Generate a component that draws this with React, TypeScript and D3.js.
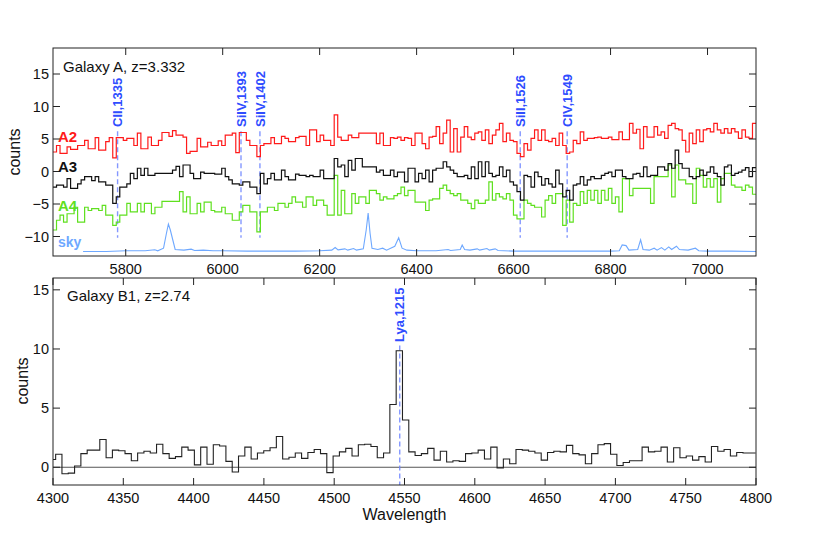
import React from 'react';
import * as d3 from 'd3';

// ---------- data ----------
const TOP_START = 5650;
const TOP_BIN = 7.25;
const A2 = [
  3.0, 4.0, 2.8, 2.8, 3.8, 3.4, 3.4, 4.0, 4.0, 4.8,
  3.5, 3.5, 5.2, 3.3, 3.3, 4.6, 5.2, 2.1, 5.2, 5.2,
  4.8, 5.1, 5.1, 4.0, 5.9, 3.5, 3.5, 5.3, 4.0, 4.0,
  4.8, 6.0, 6.0, 5.4, 6.3, 5.6, 5.6, 5.3, 2.8, 3.1,
  3.1, 5.1, 3.8, 3.8, 4.5, 4.0, 4.0, 4.7, 4.0, 5.6,
  5.6, 5.9, 2.9, 6.0, 6.0, 4.8, 4.0, 4.0, 2.3, 4.0,
  4.3, 4.3, 5.2, 4.3, 4.3, 5.4, 5.1, 4.6, 4.6, 5.2,
  5.4, 5.4, 4.0, 6.4, 6.4, 4.6, 5.6, 4.8, 4.8, 4.0,
  8.7, 5.3, 4.8, 4.8, 5.6, 5.2, 5.2, 5.9, 5.9, 5.9,
  5.9, 5.9, 4.3, 5.9, 4.0, 4.0, 5.2, 5.1, 5.3, 4.8,
  5.2,
  5.1, 4.0, 5.9, 5.9, 4.3, 3.5, 5.3, 5.4, 6.9, 4.3,
  5.9, 7.9, 3.0, 6.6, 3.0, 5.3, 6.9, 5.3, 4.9, 5.9,
  6.1, 4.8, 6.4, 4.3, 5.6, 6.4, 7.4, 4.6, 5.9, 4.8,
  4.6, 2.8, 2.3, 4.3, 3.3, 5.1, 6.4, 4.8, 6.4, 4.8,
  4.6, 5.1, 4.0, 5.9, 4.0, 2.8, 3.0, 4.8, 4.3, 6.1,
  4.8, 5.1, 5.1, 5.2, 5.3, 5.1, 5.1, 5.3, 4.9, 4.9,
  6.1, 4.9, 4.9, 7.4, 5.9, 6.5, 3.5, 6.9, 5.3, 5.3,
  6.9, 5.6, 6.1, 5.1, 7.1, 7.4, 6.6, 6.4, 4.8, 3.0,
  5.9, 4.3, 6.4, 4.6, 6.4, 6.6, 6.1, 7.4, 6.4, 5.9,
  6.6, 5.9, 6.6, 6.1, 5.1, 6.4, 5.3, 5.1, 7.4,
];
const A3 = [
  -2.4, -2.1, -2.1, -2.4, -1.1, -2.6, -2.6, -1.9, -1.3, -0.8,
  -0.8, -1.4, -0.8, -1.6, -1.6, -2.1, -2.1, -4.9, -3.9, -2.4,
  -2.4, -1.9, -0.3, -1.1, 0.5, -0.6, 0.5, -0.6, -0.6, -0.3,
  -0.3, -0.3, -0.3, -0.3, 0.2, 0.8, -0.8, 1.0, 1.0, -0.3,
  -1.1, -1.1, -0.1, -0.3, -0.3, -0.3, -0.4, -0.4, 0.5, -0.8,
  -1.3, -1.9, -1.9, -2.1, -1.6, -1.6, -2.4, -2.4, -3.4, -0.3,
  -1.9, -1.1, -0.3, -1.3, -1.3, 0.2, -0.8, -1.3, -1.3, -0.4,
  -0.6, -0.6, -0.8, -0.6, -0.8, -0.8, 0.2, -1.1, -1.1, -1.1,
  2.0, 0.7, 1.0, -0.8, 1.7, 0.2, 2.0, 2.0, 0.7, 0.7,
  0.7, 0.7, -0.1, 0.2, -0.6, -0.6, 0.2, -0.8, -0.1, -0.1,
  -1.6,
  0.5, 0.5, -1.6, -0.3, -1.1, 0.2, -1.6, 0.2, 0.5, 0.5,
  1.5, 0.7, 0.2, -0.3, -0.8, -0.8, -0.6, -1.1, 0.7, -1.1,
  1.5, -0.8, 1.5, -0.3, -0.8, -0.6, 0.7, -0.8, 0.2, -1.6,
  -2.1, -3.1, -4.4, -0.6, -0.8, -2.4, -0.1, -0.8, -2.1, -1.1,
  -1.9, -2.4, 0.2, -1.9, -3.9, -2.9, -4.4, -2.1, -1.9, -0.8,
  -2.1, -1.3, -0.8, -1.1, -1.1, -0.6, -0.3, -0.1, -0.8, 0.2,
  0.2, -0.8, -1.1, -1.1, -0.4, -0.3, -0.8, 0.7, -0.8, -0.6,
  -0.6, 0.7, 0.7, 0.2, 1.2, 0.5, 3.3, 1.2, 0.5, 0.5,
  -0.8, -1.1, -0.8, 0.2, -0.6, -0.1, 0.7, -0.3, -0.8, -2.1,
  0.7, 1.0, -0.6, -0.3, -0.1, 0.2, 0.6, -0.8, 0.6,
];
const A4 = [
  -9.0, -7.5, -6.7, -7.8, -6.5, -6.5, -5.5, -7.8, -7.8, -5.5,
  -6.0, -5.7, -5.7, -6.0, -5.2, -6.7, -6.7, -8.3, -7.8, -6.7,
  -6.7, -4.9, -6.2, -6.2, -4.9, -6.2, -4.9, -4.9, -6.5, -5.5,
  -5.5, -4.6, -4.6, -4.6, -4.6, -4.6, -3.1, -6.2, -3.9, -6.5,
  -6.5, -4.9, -6.2, -4.7, -4.7, -6.0, -6.2, -6.2, -5.5, -6.5,
  -6.5, -7.5, -7.5, -6.2, -5.2, -5.2, -6.2, -6.2, -9.3, -6.2,
  -6.2, -5.5, -5.5, -6.0, -4.9, -4.9, -5.5, -4.9, -3.9, -4.7,
  -4.7, -5.5, -3.9, -3.9, -5.2, -4.4, -4.4, -5.2, -6.7, -6.7,
  -0.6, -6.7, -2.9, -6.5, -6.5, -3.4, -4.9, -3.9, -3.9, -4.9,
  -2.9, -2.9, -3.4, -4.4, -3.9, -4.2, -4.2, -3.7, -3.4, -2.4,
  -3.7,
  -2.9, -2.9, -4.7, -4.7, -4.7, -6.0, -4.4, -4.2, -4.2, -2.6,
  -2.1, -2.9, -3.4, -3.7, -3.4, -4.4, -4.4, -4.9, -5.7, -4.4,
  -4.9, -4.9, -4.4, -1.6, -4.4, -3.4, -3.9, -4.2, -3.4, -4.4,
  -6.7, -7.3, -7.3, -4.4, -4.9, -5.2, -5.5, -5.5, -7.0, -4.4,
  -3.7, -4.9, -3.4, -3.4, -8.3, -4.4, -7.8, -4.9, -5.2, -3.1,
  -4.9, -2.9, -4.4, -2.9, -4.9, -2.9, -4.4, -2.6, -4.9, -3.9,
  -6.2, -1.1, -1.1, -3.7, -2.6, -2.6, -2.6, -2.6, -2.6, -4.9,
  -0.8, -0.8, -0.8, -0.8, 1.0, -3.9, 1.0, -1.3, -1.3, -1.9,
  -1.9, -4.9, 0.5, -0.6, -2.4, -1.1, -2.4, -1.1, -4.7, -1.1,
  -0.3, -0.3, -2.1, -2.4, -2.4, -2.9, -2.1, -2.4, -3.5,
];
// sky: [wavelength, counts] vertices of the polyline
const SKY: [number, number][] = [
  [5712, -12.3], [5760, -12.3], [5800, -12.2], [5840, -12.2], [5860, -12.05], [5866, -12.2],
  [5878, -11.8], [5884, -9.5], [5888, -8.1], [5892, -9.0], [5897, -10.5], [5902, -12.0],
  [5920, -12.1], [5935, -11.95], [5942, -12.15], [5960, -12.1], [5980, -12.2], [6000, -12.2],
  [6050, -12.25], [6100, -12.25], [6150, -12.25], [6200, -12.2], [6225, -12.1], [6232, -11.7],
  [6238, -12.05], [6252, -11.9], [6258, -12.1], [6270, -11.85], [6276, -12.1], [6290, -11.9],
  [6296, -9.0], [6300, -6.4], [6304, -9.5], [6308, -11.8], [6320, -12.0], [6330, -11.8],
  [6338, -12.1], [6355, -11.5], [6363, -10.2], [6370, -11.8], [6380, -12.1], [6400, -12.2],
  [6440, -12.2], [6465, -12.0], [6470, -12.15], [6490, -12.0], [6494, -11.3], [6499, -12.0],
  [6510, -12.1], [6525, -11.9], [6530, -12.1], [6545, -11.85], [6550, -12.1], [6562, -11.9],
  [6568, -12.15], [6600, -12.25], [6650, -12.25], [6700, -12.25], [6750, -12.25], [6800, -12.25],
  [6818, -12.2], [6824, -11.3], [6832, -11.4], [6838, -12.1], [6856, -12.0], [6862, -10.5],
  [6867, -12.0], [6880, -12.1], [6890, -11.8], [6896, -12.1], [6905, -11.7], [6912, -12.1],
  [6920, -11.6], [6926, -12.0], [6936, -11.5], [6942, -12.0], [6960, -12.1], [6975, -11.8],
  [6982, -12.2], [7000, -12.25], [7050, -12.25], [7100, -12.3],
];

const B1_START = 4297.4;
const B1_BIN = 4.485;
const B1 = [
  0.65, 1.1, -0.55, -0.5, 0.1, 1.15, 1.45, 1.45, 2.35, 0.8,
  1.45, 1.4, 1.15, 0.55, 1.2, 1.35, 1.2, 1.95, 1.15, 0.75,
  0.9, 1.7, 1.45, 0.2, 1.7, 0.25, 1.9, 1.8, 0.5, -0.4,
  0.95, 1.7, 0.7, 1.2, 1.4, 1.65, 2.6, 0.7, 0.85, 1.2,
  0.75, 1.25, 1.5, 1.15, -0.45, 0.95, 1.3, 1.6, 0.95, 1.9,
  1.95, 1.75, 0.8, 1.2, 5.3, 9.85, 4.0, 1.3, 1.0, 1.15,
  1.6, 0.6, 1.35, 0.45, 0.55, 0.5, 1.15, 1.2, 1.45, 0.7,
  1.7, -0.05, 0.7, 0.3, 1.5, 1.45, 1.35, 1.2, 0.6, 1.25,
  1.35, 1.3, 1.85, 1.15, 1.05, 0.3, 1.15, 1.9, 2.0, 1.1,
  0.15, 0.4, 0.55, 0.55, 1.7, 1.3, 1.35, 1.7, 0.45, 1.65,
  0.8, 0.95, 0.6, 0.9, 0.45, 1.75, 1.35, 1.5, 0.95, 1.25,
  1.2, 1.2,
];

const Z_A = 3.332;
const Z_B = 2.74;
const A_LINE_LABELS = ['CII,1335', 'SiIV,1393', 'SiIV,1402', 'SiII,1526', 'CIV,1549'];
const A_LINE_REST = [1335.0, 1393.76, 1402.77, 1526.71, 1549.06];
const B_LINE_LABELS = ['Lya,1215'];
const B_LINE_REST = [1215.67];

const TOP_XTICKS = [5800, 6000, 6200, 6400, 6600, 6800, 7000];
const TOP_YTICKS = [-10, -5, 0, 5, 10, 15];
const BOT_XTICKS = [4300, 4350, 4400, 4450, 4500, 4550, 4600, 4650, 4700, 4750, 4800];
const BOT_YTICKS = [0, 5, 10, 15];

// ---------- layout ----------
const W = 830, H = 540;
const FONT = '"Liberation Sans", Arial, Helvetica, sans-serif';
const L = 53, R = 756;
const TOP = { t: 48, b: 256 };
const BOT = { t: 278, b: 485 };

const fmt = (v: number) => (v < 0 ? '\u2212' + Math.abs(v) : String(v));

function stepPath(start: number, bin: number, vals: number[], x: any, y: any) {
  const pts: [number, number][] = vals.map((v, i) => [start + i * bin, v]);
  pts.push([start + vals.length * bin, vals[vals.length - 1]]);
  return d3.line<[number, number]>().x(d => x(d[0])).y(d => y(d[1])).curve(d3.curveStepAfter)(pts) || '';
}

function Frame({ x, y, xt, yt, t, b }: any) {
  const TL = 7;
  const c = '#222';
  return (
    <g>
      <rect x={L} y={t} width={R - L} height={b - t} fill="none" stroke={c} strokeWidth={1} />
      {xt.map((v: number) => (
        <g key={'x' + v}>
          <line x1={x(v)} x2={x(v)} y1={b} y2={b - TL} stroke={c} />
          <line x1={x(v)} x2={x(v)} y1={t} y2={t + TL} stroke={c} />
          <text x={x(v)} y={b + 17.5} textAnchor="middle" fontSize={14.5} fill="#111" fontFamily={FONT}>{fmt(v)}</text>
        </g>
      ))}
      {yt.map((v: number) => (
        <g key={'y' + v}>
          <line x1={L} x2={L + TL} y1={y(v)} y2={y(v)} stroke={c} />
          <line x1={R} x2={R - TL} y1={y(v)} y2={y(v)} stroke={c} />
          <text x={L - 4} y={y(v)} dy="0.36em" textAnchor="end" fontSize={14.5} fill="#111" fontFamily={FONT}>{fmt(v)}</text>
        </g>
      ))}
    </g>
  );
}

export default function App() {
  const xT = d3.scaleLinear().domain([5650, 7100]).range([L, R]);
  const yT = d3.scaleLinear().domain([-13, 19]).range([TOP.b, TOP.t]);
  const xB = d3.scaleLinear().domain([4300, 4800]).range([L, R]);
  const yB = d3.scaleLinear().domain([-1.5, 16]).range([BOT.b, BOT.t]);

  const skyLine = d3.line<[number, number]>().x(d => xT(d[0])).y(d => yT(d[1]))(SKY) || '';

  const blue = '#2f4dff';
  const dash = '#6f86ff';

  return (
    <svg width={W} height={H} style={{ position: 'absolute', left: 0, top: 0, background: '#fff' }} fontFamily={FONT}>
      <defs>
        <clipPath id="clipT"><rect x={L} y={TOP.t} width={R - L} height={TOP.b - TOP.t} /></clipPath>
        <clipPath id="clipB"><rect x={L} y={BOT.t} width={R - L} height={BOT.b - BOT.t} /></clipPath>
      </defs>
      <rect x={0} y={0} width={W} height={H} fill="#fff" />

      {/* ---------- top panel ---------- */}
      <g clipPath="url(#clipT)">
        {A_LINE_REST.map((r, i) => (
          <line key={'dl' + i} x1={xT(r * (1 + Z_A))} x2={xT(r * (1 + Z_A))} y1={yT(6.2)} y2={yT(-10.2)}
            stroke={dash} strokeWidth={1.4} strokeDasharray="5,3" opacity={0.85} />
        ))}
        <path d={skyLine} fill="none" stroke="#6ea8ff" strokeWidth={1.1} />
        <path d={stepPath(TOP_START, TOP_BIN, A4, xT, yT)} fill="none" stroke="#5fe01f" strokeWidth={1.2} />
        <path d={stepPath(TOP_START, TOP_BIN, A3, xT, yT)} fill="none" stroke="#111" strokeWidth={1.2} />
        <path d={stepPath(TOP_START, TOP_BIN, A2, xT, yT)} fill="none" stroke="#ff1a1a" strokeWidth={1.2} />
      </g>
      <Frame x={xT} y={yT} xt={TOP_XTICKS} yt={TOP_YTICKS} t={TOP.t} b={TOP.b} />
      {A_LINE_REST.map((r, i) => {
        const px = xT(r * (1 + Z_A));
        return (
          <text key={'lt' + i} transform={`translate(${px},127) rotate(-90)`} dy="0.36em" fontSize={13}
            fontWeight="bold" fill={blue}>{A_LINE_LABELS[i]}</text>
        );
      })}
      <text x={63} y={72} fontSize={15} fill="#111">Galaxy A, z=3.332</text>
      <text x={58} y={142} fontSize={15} fontWeight="bold" fill="#ff1a1a">A2</text>
      <text x={58} y={172} fontSize={15} fontWeight="bold" fill="#111">A3</text>
      <text x={58} y={211} fontSize={15} fontWeight="bold" fill="#5fe01f">A4</text>
      <text x={58} y={247} fontSize={14} fontWeight="bold" fill="#6ea8ff">sky</text>
      <text transform={`translate(14,152) rotate(-90)`} textAnchor="middle" dy="0.35em" fontSize={16} fill="#111">counts</text>

      {/* ---------- bottom panel ---------- */}
      <g clipPath="url(#clipB)">
        <line x1={L} x2={R} y1={yB(0)} y2={yB(0)} stroke="#555" strokeWidth={1} />
        {B_LINE_REST.map((r, i) => (
          <line key={'bl' + i} x1={xB(r * (1 + Z_B))} x2={xB(r * (1 + Z_B))} y1={yB(10.3)} y2={yB(-1.5)}
            stroke={dash} strokeWidth={1.4} strokeDasharray="5,3" opacity={0.85} />
        ))}
        <path d={stepPath(B1_START, B1_BIN, B1, xB, yB)} fill="none" stroke="#222" strokeWidth={1.1} />
      </g>
      <Frame x={xB} y={yB} xt={BOT_XTICKS} yt={BOT_YTICKS} t={BOT.t} b={BOT.b} />
      {B_LINE_REST.map((r, i) => {
        const px = xB(r * (1 + Z_B));
        return (
          <text key={'blt' + i} transform={`translate(${px},342) rotate(-90)`} dy="0.36em" fontSize={13}
            fontWeight="bold" fill={blue}>{B_LINE_LABELS[i]}</text>
        );
      })}
      <text x={67} y={301} fontSize={15} fill="#111">Galaxy B1, z=2.74</text>
      <text transform={`translate(22,381) rotate(-90)`} textAnchor="middle" dy="0.35em" fontSize={16} fill="#111">counts</text>
      <text x={(L + R) / 2} y={520} textAnchor="middle" fontSize={16} fill="#111">Wavelength</text>
    </svg>
  );
}
